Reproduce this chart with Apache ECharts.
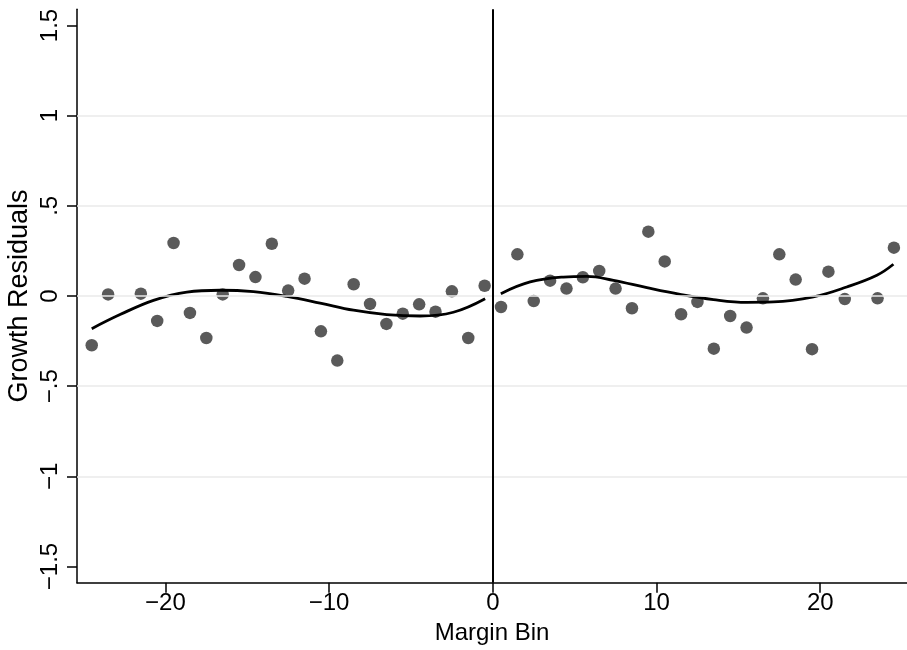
<!DOCTYPE html>
<html>
<head>
<meta charset="utf-8">
<script src="https://cdn.jsdelivr.net/npm/echarts@6/dist/echarts.min.js"></script>
<style>
html,body{margin:0;padding:0;background:#fff;}
#chart{width:907px;height:650px;}
</style>
</head>
<body>
<div id="chart"></div>
<script>
// Binned scatter (margin bin midpoints) and residual values
const binX = [-24.5,-23.5,-21.5,-20.5,-19.5,-18.5,-17.5,-16.5,-15.5,-14.5,-13.5,-12.5,-11.5,-10.5,-9.5,-8.5,-7.5,-6.5,-5.5,-4.5,-3.5,-2.5,-1.5,-0.5,
              0.5,1.5,2.5,3.5,4.5,5.5,6.5,7.5,8.5,9.5,10.5,11.5,12.5,13.5,14.5,15.5,16.5,17.5,18.5,19.5,20.5,21.5,23.5,24.5];
const residuals = [-0.273,0.009,0.013,-0.138,0.294,-0.094,-0.233,0.009,0.172,0.105,0.290,0.030,0.096,-0.196,-0.358,0.065,-0.044,-0.155,-0.098,-0.046,-0.087,0.026,-0.233,0.057,
              -0.061,0.231,-0.028,0.085,0.041,0.104,0.139,0.041,-0.068,0.357,0.192,-0.101,-0.033,-0.292,-0.111,-0.175,-0.013,0.231,0.091,-0.295,0.135,-0.017,-0.013,0.268];

// Fitted curve, left of cutoff
const fitLeftX = [-24.5,-22.77,-20.73,-18.69,-16.66,-14.62,-12.58,-10.55,-8.51,-6.48,-4.44,-2.41,-0.47];
const fitLeftY = [-0.181,-0.103,-0.024,0.022,0.032,0.024,-0.002,-0.039,-0.079,-0.103,-0.111,-0.090,-0.015];
// Fitted curve, right of cutoff
const fitRightX = [0.49,2.28,4.31,5.74,7.37,9.41,11.44,13.48,15.52,17.14,19.58,21.62,23.46,24.47];
const fitRightY = [0.013,0.078,0.105,0.109,0.087,0.046,0.009,-0.020,-0.035,-0.033,-0.005,0.050,0.115,0.176];

const xTicks = [-20,-10,0,10,20];
const yTicks = [-1.5,-1,-0.5,0,0.5,1,1.5];
const yGrid = [-1,-0.5,0,0.5,1];

function fmtNum(v){
  let s = String(Math.abs(v));
  if (s.startsWith('0.')) s = s.slice(1);
  return (v < 0 ? '\u2212' : '') + s;
}

const FONT = 'Liberation Sans, Arial, Helvetica, sans-serif';
const chart = echarts.init(document.getElementById('chart'), null, {renderer:'canvas'});
chart.setOption({
  animation:false,
  backgroundColor:'#ffffff',
  grid:{left:77, right:0, top:9.3, bottom:67.3, containLabel:false, outerBoundsMode:'none'},
  xAxis:{
    type:'value', min:-25.4, max:25.3,
    name:'Margin Bin', nameLocation:'middle', nameGap:39,
    nameTextStyle:{fontFamily:FONT, fontSize:24, color:'#000'},
    axisLine:{show:true, onZero:false, lineStyle:{color:'#000', width:1.5}},
    axisTick:{show:true, length:10, customValues:xTicks, lineStyle:{color:'#000', width:1.5}},
    axisLabel:{customValues:xTicks, fontFamily:FONT, fontSize:24, color:'#000', margin:9, formatter:fmtNum},
    splitLine:{show:false}
  },
  yAxis:{
    type:'value', min:-1.59, max:1.59,
    name:'Growth Residuals', nameLocation:'middle', nameGap:44, nameRotate:90,
    nameMoveOverlap:false,
    nameTextStyle:{fontFamily:FONT, fontSize:27, color:'#000'},
    axisLine:{show:true, onZero:false, lineStyle:{color:'#000', width:1.5}},
    axisTick:{show:true, length:10, customValues:yTicks, lineStyle:{color:'#000', width:1.5}},
    axisLabel:{customValues:yTicks, rotate:90, fontFamily:FONT, fontSize:24, color:'#000', margin:15, formatter:fmtNum},
    splitLine:{show:false}
  },
  series:[
    {
      type:'line', data:[], silent:true,
      markLine:{silent:true, symbol:'none', label:{show:false},
        lineStyle:{color:'#eaeaea', width:1.5, type:'solid'},
        data: yGrid.map(v=>({yAxis:v}))}
    },
    {
      type:'line', data:[], silent:true,
      markLine:{silent:true, symbol:'none', label:{show:false},
        lineStyle:{color:'#000', width:2, type:'solid'},
        data:[{xAxis:0}]}
    },
    {
      type:'scatter', symbol:'circle', symbolSize:12.5,
      itemStyle:{color:'#5a5a5a', opacity:1},
      data: binX.map((x,i)=>[x, residuals[i]])
    },
    {
      type:'line', smooth:0.4, showSymbol:false, symbol:'none',
      lineStyle:{color:'#000', width:2.8},
      data: fitLeftX.map((x,i)=>[x, fitLeftY[i]])
    },
    {
      type:'line', smooth:0.4, showSymbol:false, symbol:'none',
      lineStyle:{color:'#000', width:2.8},
      data: fitRightX.map((x,i)=>[x, fitRightY[i]])
    }
  ]
});
</script>
</body>
</html>
